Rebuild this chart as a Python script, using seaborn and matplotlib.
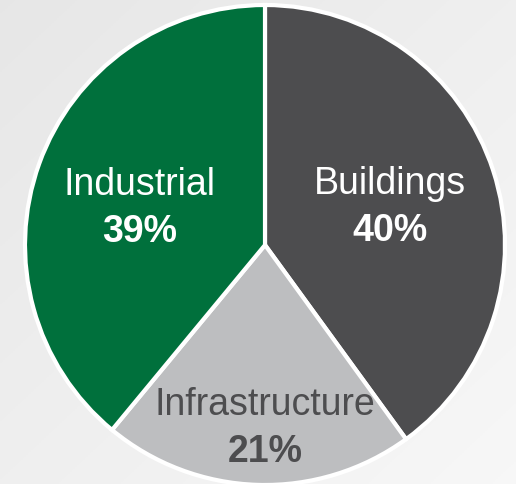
import numpy as np
import matplotlib
matplotlib.use("Agg")
import matplotlib.pyplot as plt
import seaborn as sns

categories = ["Buildings", "Infrastructure", "Industrial"]
shares = [40, 21, 39]
colors = ["#4d4d4f", "#bdbec0", "#00703c"]
text_colors = ["white", "#4d4d4f", "white"]
# label placement (radius fraction, angle in degrees) - layout only
label_polar = [(0.544, 17.1), (0.7625, -90.0), (0.544, 163.3)]

sns.set_theme(style="white")
plt.rcParams['font.family'] = ['Liberation Sans', 'DejaVu Sans']

W, H, dpi = 516, 485, 100
fig = plt.figure(figsize=(W / dpi, H / dpi), dpi=dpi)

# background gradient
bg = fig.add_axes([0, 0, 1, 1])
yy, xx = np.mgrid[0:1:200j, 0:1:200j]
g = 0.905 + 0.065 * (0.5 * xx + 0.5 * yy)
bg.imshow(np.dstack([g, g, g]), extent=[0, 1, 0, 1], aspect="auto", origin="upper")
bg.set_axis_off()

ax = fig.add_axes([0, 0, 1, 1])
ax.set_facecolor("none")
cx, cy, r = 265, 246, 240
wedges, _ = ax.pie(shares, colors=colors, startangle=90, counterclock=False,
                   wedgeprops=dict(edgecolor="white", linewidth=3))
ax.set_xlim(-cx / r, (W - cx) / r)
ax.set_ylim(-(H - cy) / r, cy / r)
ax.set_aspect("equal")
ax.set_axis_off()

half_gap = 23.5 / r
for cat, s, tc, (d, a) in zip(categories, shares, text_colors, label_polar):
    ang = np.deg2rad(a)
    x, y = d * np.cos(ang), d * np.sin(ang)
    ax.text(x, y + half_gap, cat, ha="center", va="center", color=tc, fontsize=27)
    ax.text(x, y - half_gap, f"{s}%", ha="center", va="center", color=tc,
            fontsize=27, fontweight="bold")

fig.savefig("out.png", dpi=dpi)
